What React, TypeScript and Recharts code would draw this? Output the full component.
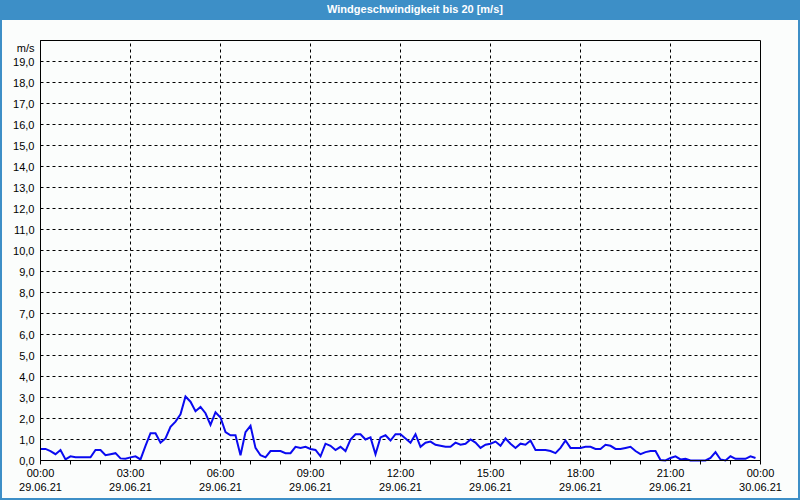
import {
  LineChart,
  Line,
  XAxis,
  YAxis,
  CartesianGrid,
  ReferenceLine,
  ReferenceArea,
} from 'recharts';

// wind speed in m/s, one reading every 10 minutes starting 29.06.21 00:00
const windSpeed = [
  0.55, 0.55, 0.45, 0.3, 0.5, 0.05, 0.2, 0.15, 0.15, 0.15,
  0.15, 0.5, 0.5, 0.25, 0.3, 0.35, 0.1, 0.08, 0.15, 0.2,
  0.05, 0.7, 1.3, 1.3, 0.85, 1.05, 1.6, 1.85, 2.2, 3.05,
  2.8, 2.35, 2.55, 2.25, 1.7, 2.3, 2.05, 1.35, 1.2, 1.2,
  0.25, 1.35, 1.65, 0.6, 0.25, 0.15, 0.45, 0.45, 0.45, 0.35,
  0.35, 0.65, 0.6, 0.65, 0.55, 0.5, 0.2, 0.8, 0.7, 0.5,
  0.65, 0.45, 1.0, 1.25, 1.25, 1.0, 1.1, 0.3, 1.1, 1.2,
  0.95, 1.25, 1.25, 1.05, 0.85, 1.25, 0.65, 0.85, 0.9, 0.75,
  0.7, 0.65, 0.65, 0.85, 0.75, 0.8, 1.0, 0.85, 0.6, 0.75,
  0.8, 0.9, 0.7, 1.05, 0.8, 0.6, 0.8, 0.75, 0.95, 0.5,
  0.5, 0.5, 0.45, 0.35, 0.6, 0.95, 0.6, 0.6, 0.6, 0.65,
  0.65, 0.55, 0.55, 0.75, 0.7, 0.55, 0.55, 0.6, 0.65, 0.45,
  0.3, 0.4, 0.45, 0.45, 0.02, 0, 0.12, 0.2, 0.05, 0.08,
  0, 0, 0, 0, 0.12, 0.4, 0.05, 0, 0.2, 0.08,
  0.08, 0.08, 0.2, 0.12,
];
const STEP_MINUTES = 10;

const hourTicks = [
  0, 60, 120, 180, 240, 300, 360, 420, 480, 540, 600, 660, 720,
  780, 840, 900, 960, 1020, 1080, 1140, 1200, 1260, 1320, 1380, 1440,
];
const gridMinutes = [180, 360, 540, 720, 900, 1080, 1260];
const timeLabels = ['00:00', '03:00', '06:00', '09:00', '12:00', '15:00', '18:00', '21:00', '00:00'];
const dateLabels = [
  '29.06.21', '29.06.21', '29.06.21', '29.06.21', '29.06.21',
  '29.06.21', '29.06.21', '29.06.21', '30.06.21',
];
const yTicks = [0, 1, 2, 3, 4, 5, 6, 7, 8, 9, 10, 11, 12, 13, 14, 15, 16, 17, 18, 19, 20];

const data = windSpeed.map((v, i) => ({ t: i * STEP_MINUTES, v }));

const FONT = '"Liberation Sans", Arial, sans-serif';

function XTick({ x, y, payload }: any) {
  const m = payload.value as number;
  if (m % 180 !== 0) return null;
  const idx = m / 180;
  return (
    <g>
      <text x={x} y={y + 12} textAnchor="middle" fontSize={11} fontFamily={FONT} fill="#000">
        {timeLabels[idx]}
      </text>
      <text x={x} y={y + 26} textAnchor="middle" fontSize={11} fontFamily={FONT} fill="#000">
        {dateLabels[idx]}
      </text>
    </g>
  );
}

function YTick({ x, y, payload }: any) {
  const v = payload.value as number;
  if (v === 20) {
    return (
      <text x={x} y={y + 11} textAnchor="end" fontSize={11} fontFamily={FONT} fill="#000">
        m/s
      </text>
    );
  }
  return (
    <text x={x} y={y + 4} textAnchor="end" fontSize={11} fontFamily={FONT} fill="#000">
      {v.toFixed(1).replace('.', ',')}
    </text>
  );
}

export default function App() {
  return (
    <div
      style={{
        position: 'absolute',
        left: 0,
        top: 0,
        width: 800,
        height: 500,
        background: '#3d8fc7',
      }}
    >
      <div
        style={{
          position: 'absolute',
          left: 2,
          top: 20,
          width: 796,
          height: 478,
          background: '#fbfdfc',
        }}
      />
      <div
        style={{
          position: 'absolute',
          left: 415,
          top: 3,
          transform: 'translateX(-50%)',
          color: '#fff',
          fontFamily: FONT,
          fontWeight: 'bold',
          fontSize: 11,
          whiteSpace: 'nowrap',
        }}
      >
        Windgeschwindigkeit bis 20 [m/s]
      </div>
      <div style={{ position: 'absolute', left: 0, top: 0 }}>
        <LineChart
          width={800}
          height={500}
          data={data}
          margin={{ top: 40.5, right: 39.5, bottom: 9.5, left: 4.5 }}
        >
          <CartesianGrid vertical={false} stroke="#000" strokeDasharray="3 3" />
          {gridMinutes.map((m) => (
            <ReferenceLine key={m} x={m} stroke="#000" strokeDasharray="3 3" />
          ))}
          <XAxis
            dataKey="t"
            type="number"
            domain={[0, 1440]}
            ticks={hourTicks}
            tick={<XTick />}
            tickSize={4}
            tickMargin={0}
            height={30}
            stroke="#000"
            interval={0}
          />
          <YAxis
            type="number"
            domain={[0, 20]}
            ticks={yTicks}
            tick={<YTick />}
            tickLine={false}
            tickSize={4}
            tickMargin={2}
            width={36}
            stroke="#000"
            interval={0}
          />
          <ReferenceArea x1={0} x2={1440} y1={0} y2={20} fill="none" stroke="#000" />
          <Line
            dataKey="v"
            stroke="#0a0af0"
            strokeWidth={2}
            dot={false}
            isAnimationActive={false}
          />
        </LineChart>
      </div>
    </div>
  );
}
